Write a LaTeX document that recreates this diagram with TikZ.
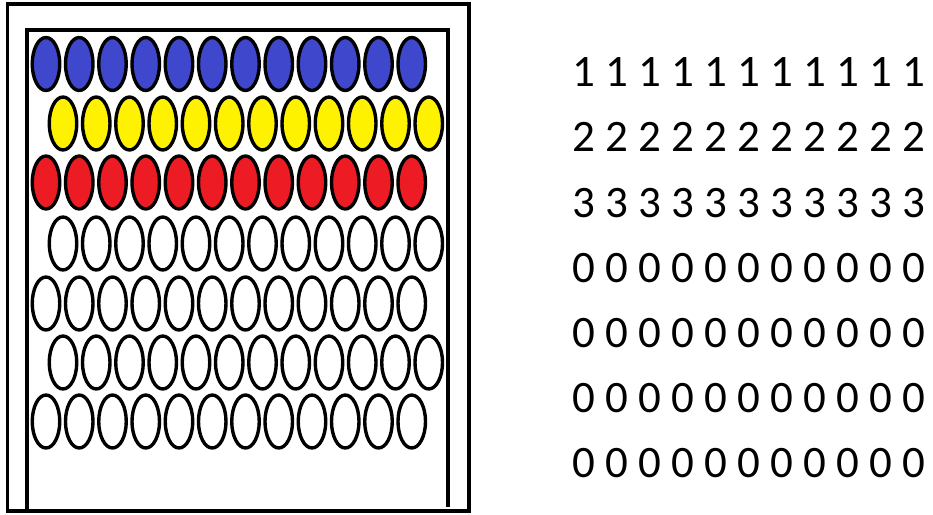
\documentclass[tikz,border=0pt]{standalone}
\usepackage{fontspec}
\setmainfont{Carlito}
\usetikzlibrary{shapes.geometric}
\definecolor{pegblue}{HTML}{3F48CC}
\definecolor{pegyellow}{HTML}{FFF200}
\definecolor{pegred}{HTML}{ED1C24}
\begin{document}
\begin{tikzpicture}[x=1pt,y=-1pt,
  peg/.style={ellipse, draw=black, line width=3.4pt, minimum width=27.5pt,
    minimum height=53pt, inner sep=0pt},
  digits/.style={anchor=base west, inner sep=0pt,
    font=\fontsize{45}{54}\selectfont}]
  \useasboundingbox (0,0) rectangle (933,514);
  % frame of the board
  \draw[line width=3.6pt] (7.5,4) rectangle (469,511);
  \draw[line width=3.2pt] (27,511) -- (27,30) -- (448,30) -- (448,507);
  % rows of pegs: row / centre y / first centre x / fill
  \foreach \r/\y/\x/\c in {1/64/46/pegblue, 2/123.5/63/pegyellow,
      3/182.5/46/pegred, 4/243.5/63/white, 5/303.5/46/white,
      6/362.5/63/white, 7/421.5/46/white}
    \foreach \k in {0,...,11}
      \node[peg, fill=\c] (p-\r-\k) at ({\x+33.25*\k},\y) {};
  % matching number rows
  \node[digits] (n-1) at (572,86.7)  {1 1 1 1 1 1 1 1 1 1 1};
  \node[digits] (n-2) at (572,151.9) {2 2 2 2 2 2 2 2 2 2 2};
  \node[digits] (n-3) at (572,217.1) {3 3 3 3 3 3 3 3 3 3 3};
  \node[digits] (n-4) at (572,282.3) {0 0 0 0 0 0 0 0 0 0 0};
  \node[digits] (n-5) at (572,347.5) {0 0 0 0 0 0 0 0 0 0 0};
  \node[digits] (n-6) at (572,412.7) {0 0 0 0 0 0 0 0 0 0 0};
  \node[digits] (n-7) at (572,477.9) {0 0 0 0 0 0 0 0 0 0 0};
\end{tikzpicture}
\end{document}
